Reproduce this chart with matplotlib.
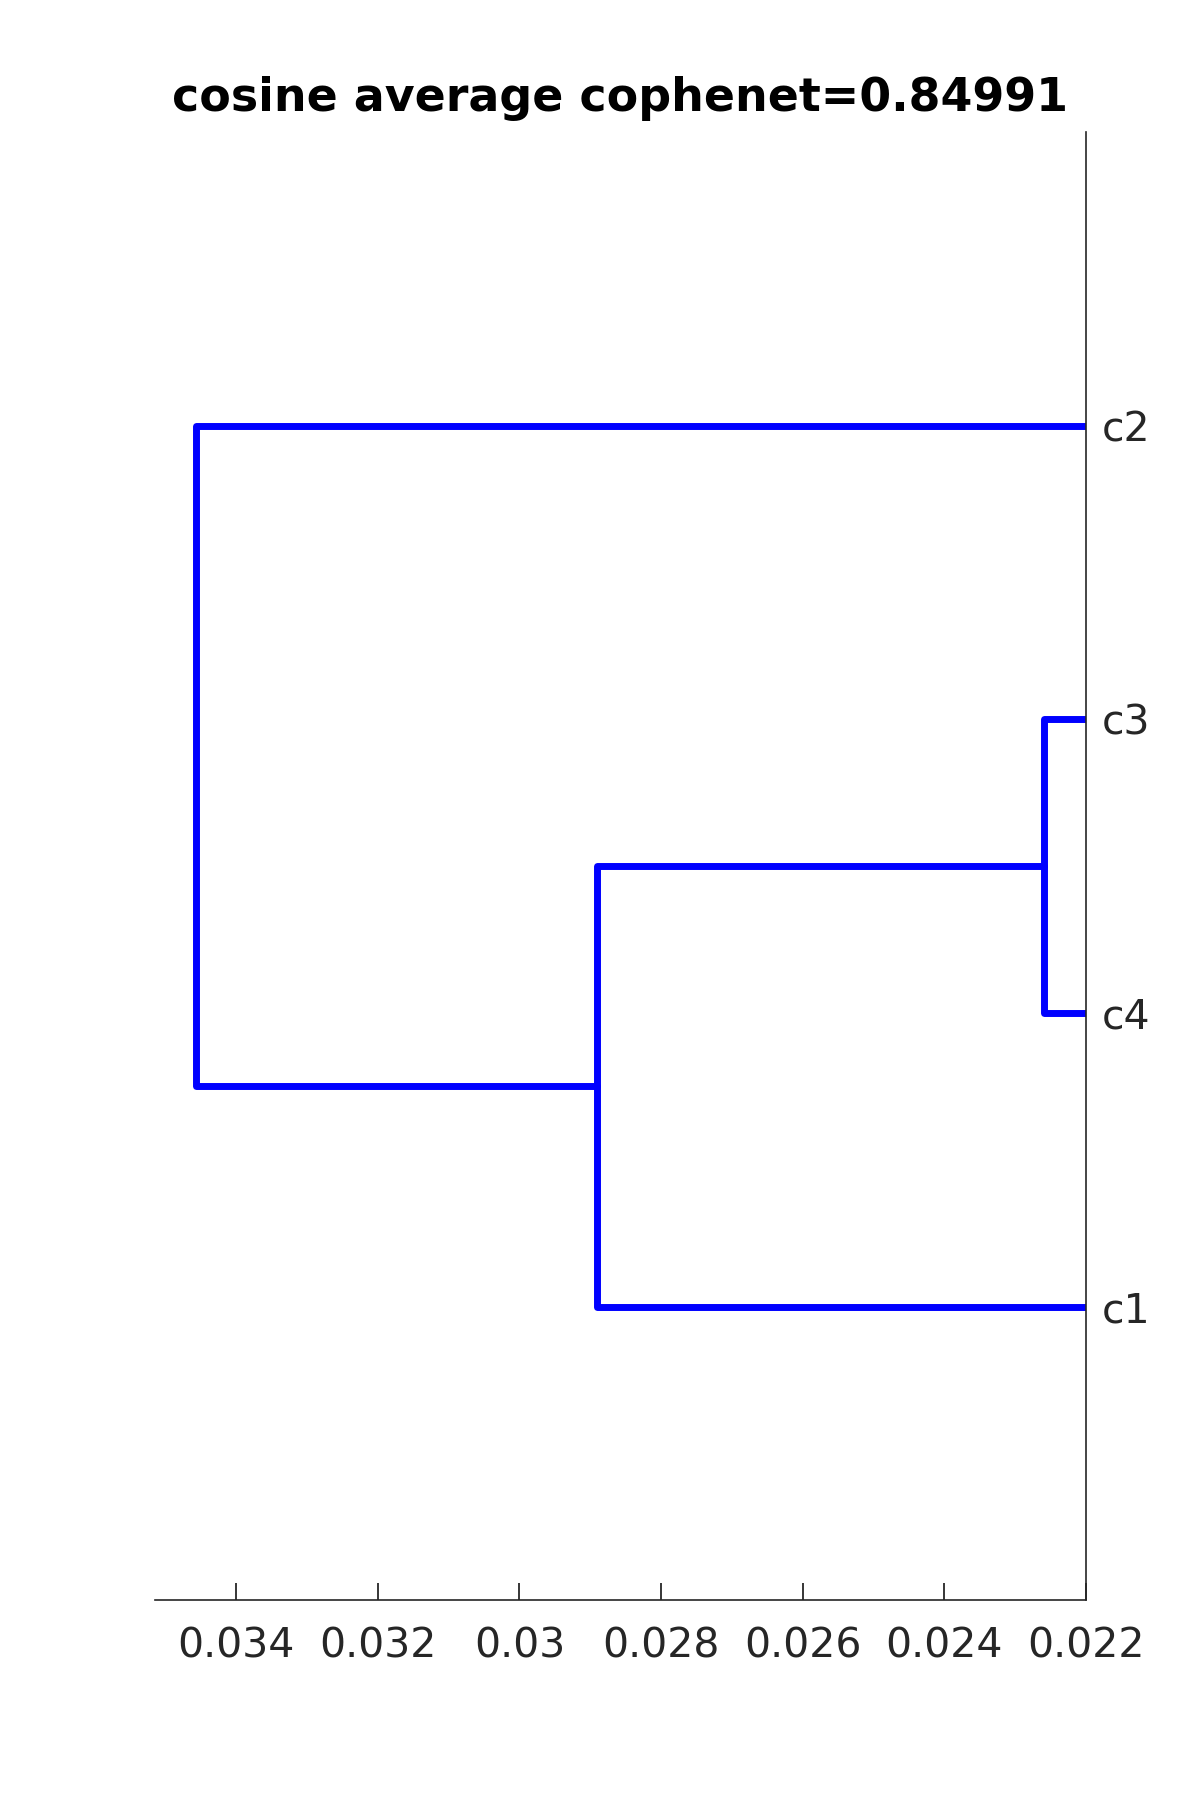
import matplotlib
matplotlib.use("Agg")
import matplotlib.pyplot as plt

# Data
leaf_labels = ["c1", "c4", "c3", "c2"]          # bottom to top
leaf_positions = [1, 2, 3, 4]
# linkage: nodes 0..3 are leaves c1..c4; new nodes numbered from 4
merge_left = [2, 4, 5]
merge_right = [3, 0, 1]
merge_height = [0.02259, 0.02891, 0.034565]
title_text = "cosine average cophenet=0.84991"
xticks = [0.034, 0.032, 0.030, 0.028, 0.026, 0.024, 0.022]
xtick_labels = ["0.034", "0.032", "0.03", "0.028", "0.026", "0.024", "0.022"]

leaf_names = ["c1", "c2", "c3", "c4"]
pos = {i: leaf_positions[leaf_labels.index(n)] for i, n in enumerate(leaf_names)}
hgt = {i: 0.0 for i in range(4)}

fig = plt.figure(figsize=(12, 18), dpi=100)
ax = fig.add_axes([0.129, 0.111, 0.776, 0.8157])

col = "#0000ff"
lw = 5
for k, (a, b, h) in enumerate(zip(merge_left, merge_right, merge_height)):
    node = 4 + k
    ya, yb = pos[a], pos[b]
    ax.plot([hgt[a], h, h, hgt[b]], [ya, ya, yb, yb], color=col, lw=lw,
            solid_joinstyle="round", solid_capstyle="round", clip_on=True)
    pos[node] = (ya + yb) / 2
    hgt[node] = h

ax.set_xlim(0.03515, 0.022)
ax.set_ylim(0, 5)

ax.spines["top"].set_visible(False)
ax.spines["left"].set_visible(False)
for s in ["bottom", "right"]:
    ax.spines[s].set_linewidth(1.2)
    ax.spines[s].set_color("#262626")

ax.yaxis.tick_right()
ax.set_yticks(leaf_positions)
ax.set_yticklabels(leaf_labels)
ax.tick_params(axis="y", length=0, pad=11, labelsize=29.5, labelcolor="#262626")
ax.set_xticks(xticks)
ax.set_xticklabels(xtick_labels)
ax.tick_params(axis="x", direction="in", length=12, width=1.3, color="#262626",
               pad=19, labelsize=29.5, labelcolor="#262626")

ax.set_title(title_text, fontsize=33, fontweight="bold", pad=15)

fig.savefig("out.png", dpi=100)
